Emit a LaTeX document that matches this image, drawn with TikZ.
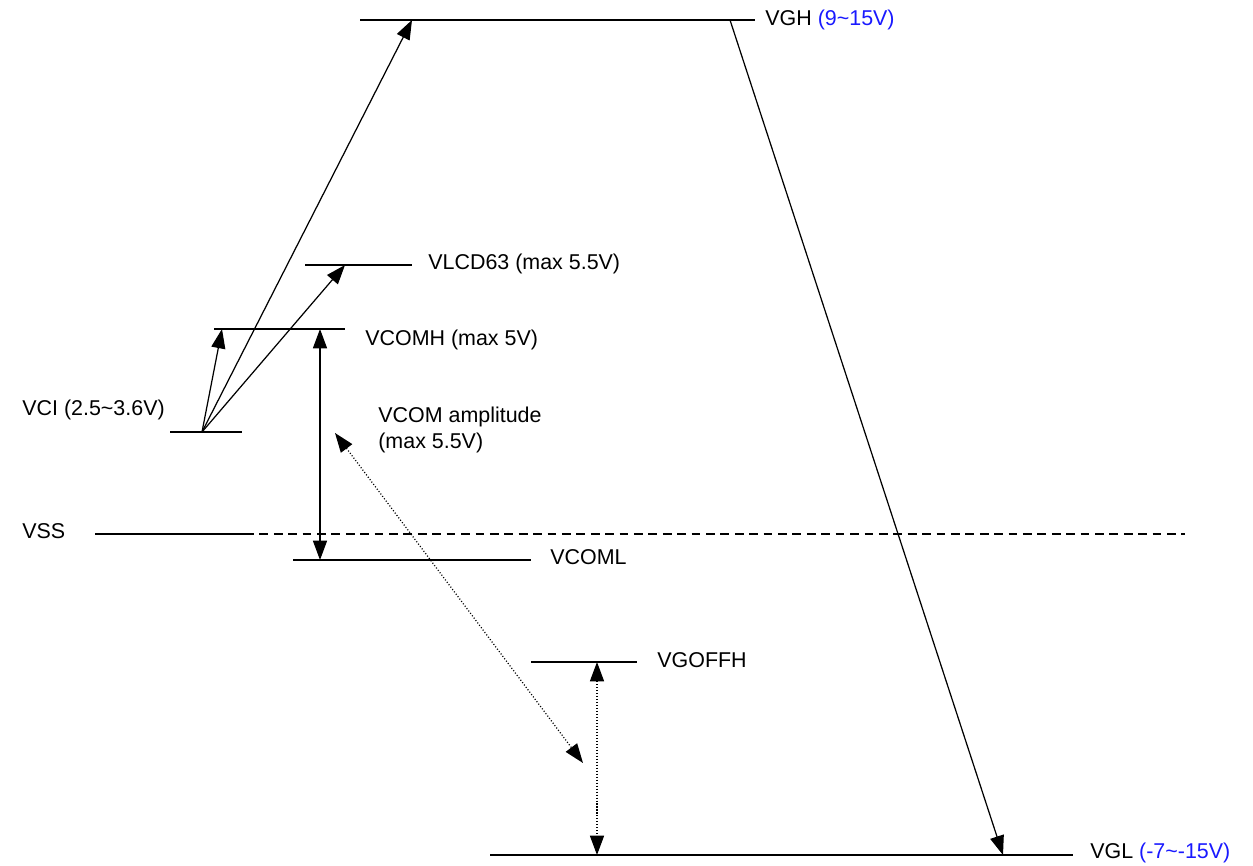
\documentclass[tikz,border=0pt]{standalone}
\usepackage{fontspec}
\setmainfont{Liberation Sans}
\usepackage{tikz}
\usetikzlibrary{arrows.meta,positioning}
\definecolor{rangeblue}{RGB}{25,25,255}

\begin{document}
\begin{tikzpicture}[x=0.02cm,y=-0.02cm,
  level/.style={line width=1pt},
  lbl/.style={anchor=west,inner sep=0pt,font=\fontsize{12.2}{14.5}\selectfont},
  >={Triangle[length=11pt,width=8pt]},
  arr/.style={line width=0.7pt},
  dotarr/.style={line width=0.7pt,dash pattern=on 0.6pt off 1.1pt}]
\useasboundingbox (0,0) rectangle (1253,865);
% levels
\draw[level] (360,20) -- (755,20);
\node[lbl] (vgh) at (765,20) {VGH \textcolor{rangeblue}{(9\textasciitilde15V)}};
\draw[level] (305,265) -- (412,265);
\node[lbl] (vlcd) at (428,264) {VLCD63 (max 5.5V)};
\draw[level] (214,329) -- (345,329);
\node[lbl] (vcomh) at (365,340) {VCOMH (max 5V)};
\draw[level] (170,432) -- (242,432);
\node[lbl] (vci) at (22,410) {VCI (2.5\textasciitilde3.6V)};
\draw[level] (95,534) -- (245,534);
\draw[line width=0.8pt,dash pattern=on 5pt off 3.2pt] (245,534) -- (1185,534);
\node[lbl] (vss) at (22,531) {VSS};
\draw[level] (293,560) -- (531,560);
\node[lbl] (vcoml) at (550,557) {VCOML};
\node[lbl,align=left] (vamp) at (378,430) {VCOM amplitude\\(max 5.5V)};
\draw[level] (531,662) -- (637,662);
\node[lbl] (vgoffh) at (657,660) {VGOFFH};
\draw[level] (490,855) -- (1073,855);
\node[lbl] (vgl) at (1090,853) {VGL \textcolor{rangeblue}{(-7\textasciitilde-15V)}};
% connector ends
\coordinate (src) at (202,432);
\coordinate (ghin) at (412,20);
\coordinate (ghout) at (730,20);
\coordinate (glin) at (1003,855);
\coordinate (lcdin) at (345,265);
\coordinate (chin) at (222,329);
\coordinate (ampt) at (320,329);
\coordinate (ampb) at (320,560);
\coordinate (dott) at (335,433);
\coordinate (dotb) at (583,763);
\coordinate (offt) at (597,662);
\coordinate (offb) at (597,855);
% arrows
\draw[arr,->] (src) -- (ghin);
\draw[arr,->] (src) -- (lcdin);
\draw[arr,->] (src) -- (chin);
\draw[arr,->] (ghout) -- (glin);
\draw[arr,<->] (ampt) -- (ampb);
\draw[dotarr,<->] (dott) -- (dotb);
\draw[dotarr,<->] (offt) -- (offb);
\end{tikzpicture}
\end{document}
